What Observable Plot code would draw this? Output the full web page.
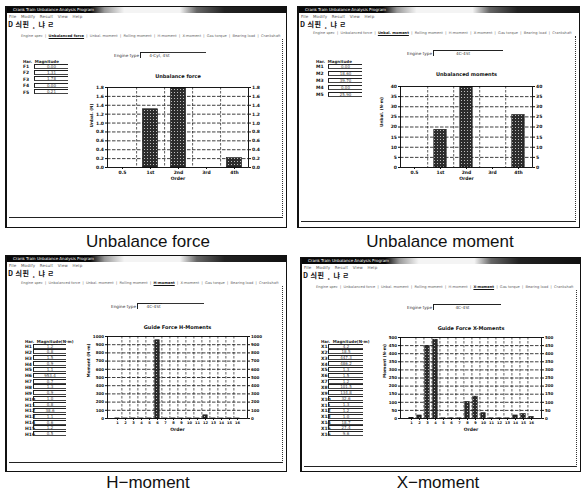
<!DOCTYPE html>
<html><head><meta charset="utf-8">
<script src="https://cdn.jsdelivr.net/npm/d3@7"></script>
<script src="https://cdn.jsdelivr.net/npm/@observablehq/plot@0.6"></script>
<style>
html,body{margin:0;padding:0;background:#fff;}
body{width:581px;height:495px;overflow:hidden;position:relative;font-family:"DejaVu Sans",sans-serif;color:#111;}
.a{position:absolute;box-sizing:border-box;white-space:nowrap;}
.frame{border:1px solid #111;border-left:2px solid #111;background:#fff;}
.tbar{height:6px;background:linear-gradient(90deg,#080808 0%,#080808 30%,#999 35%,#f4f4f4 42%,#f4f4f4 62%,#666 68%,#222 78%,#111 100%);color:#fff;font-size:4px;line-height:6px;padding-left:6px;}
.menu{font-size:4px;color:#555;letter-spacing:0.2px;}
.tool{font:bold 7px "Noto Sans CJK KR",sans-serif;color:#111;letter-spacing:0.5px;line-height:8px;}
.tab{font-size:3.6px;color:#666;line-height:5px;}
.tab b{color:#111;text-decoration:underline;}
.cap{font-family:"Liberation Sans",Arial,sans-serif;font-size:17px;color:#111;text-align:center;line-height:20px;}
.lbl{font:bold 4.5px "DejaVu Sans",sans-serif;color:#111;line-height:5px;}
.tbox{border-top:1px solid #222;border-left:1px solid #222;border-bottom:1px solid #444;height:5px;font-size:4px;line-height:4px;text-align:center;color:#444;}
.hdr{font-size:4px;color:#222;font-weight:bold;}
.small{font-size:4.2px;color:#333;}
</style></head>
<body>
<svg width="0" height="0" style="position:absolute">
  <defs>
    <pattern id="stip" width="3" height="3" patternUnits="userSpaceOnUse">
      <rect width="3" height="3" fill="#2c2c2c"/>
      <rect x="1" y="1" width="1" height="1" fill="#bdbdbd"/>
    </pattern>
  </defs>
</svg>
<script>
// ---------- data ----------
const captions = ["Unbalance force", "Unbalance moment", "H\u2212moment", "X\u2212moment"];
const chartTitles = ["Unbalance force", "Unbalanced moments", "Guide Force H-Moments", "Guide Force X-Moments"];
const yLabels = ["Unbal. (N)", "Unbal. (N\u00b7m)", "Moment (N\u00b7m)", "Moment (N\u00b7m)"];
const tabLabels = ["Engine spec", "Unbalanced force", "Unbal. moment", "Rolling moment", "H-moment", "X-moment", "Gas torque", "Bearing load", "Crankshaft"];

const forceOrders = ["0.5", "1st", "2nd", "3rd", "4th"];
const forceValues = [0, 1.31, 1.78, 0, 0.21];
const forceTicks = [0, 0.2, 0.4, 0.6, 0.8, 1.0, 1.2, 1.4, 1.6, 1.8];

const momentOrders = ["0.5", "1st", "2nd", "3rd", "4th"];
const momentValues = [0, 18.6, 39.7, 0, 25.9];
const momentTicks = [0, 5, 10, 15, 20, 25, 30, 35, 40];

const hOrders = ["1","2","3","4","5","6","7","8","9","10","11","12","13","14","15","16"];
const hValues = [1.2, 0.8, 1.5, 0.9, 1.1, 953.4, 0.7, 1.3, 0.9, 1.0, 0.8, 38.6, 1.1, 0.6, 1.2, 0.5];
const hTicks = [0, 100, 200, 300, 400, 500, 600, 700, 800, 900, 1000];

const xOrders = ["1","2","3","4","5","6","7","8","9","10","11","12","13","14","15","16"];
const xValues = [4.2, 18.5, 447.3, 486.2, 1.3, 1.5, 1.2, 101.5, 134.8, 32.6, 1.3, 1.2, 1.0, 18.7, 27.4, 9.6];
const xTicks = [0, 50, 100, 150, 200, 250, 300, 350, 400, 450, 500];

const engineType = ["4-Cyl, 4St", "4C-4St", "4C-4St", "4C-4St"];

// ---------- helpers ----------
function el(cls, x, y, w, h, text, extra) {
  const d = document.createElement("div");
  d.className = "a " + (cls || "");
  d.style.left = x + "px"; d.style.top = y + "px";
  if (w != null) d.style.width = w + "px";
  if (h != null) d.style.height = h + "px";
  if (text != null) d.innerHTML = text;
  if (extra) Object.assign(d.style, extra);
  document.body.appendChild(d);
  return d;
}

function windowChrome(p) {
  const [x, y, w, h] = p.box;
  el("frame", x, y, w, h);
  el("tbar", x + 2, y + 1, w - 3, 6, "Crank Train Unbalance Analysis Program");
  el("menu", x + 4, y + 8, 90, 5, "File&nbsp;&nbsp; Modify&nbsp;&nbsp; Result&nbsp;&nbsp; View&nbsp;&nbsp; Help");
  el("tool", x + 3, y + p.toolY, 70, 8, "D 싀핀 ¸ 냐 ㄹ");
  const tabs = el("tab", x + 16, y + p.tabY, w - 20, 5);
  tabs.innerHTML = tabLabels.map((t, i) => i === p.activeTab ? "<b>" + t + "</b>" : t).join(" &nbsp;|&nbsp; ");
  el("", x + 4, y + p.tabY + 5, w - 8, p.contentH, null, {borderRight: "1px dotted #333", borderBottom: "1.5px solid #222"});
  el("small", p.eng[0], p.eng[1], 26, 5, "Engine type");
  el("", p.eng[0] + 26, p.eng[1] - 1, p.eng[2], 6, null, {borderTop: "1px solid #222", borderLeft: "1px solid #222"});
  el("small", p.eng[0] + 28 + p.eng[2] * 0.3, p.eng[1], 40, 5, engineType[p.idx]);
  el("", p.eng[0] + 26 + p.eng[2], p.eng[1] - 1, p.eng[3], 1, null, {borderTop: "1px solid #333"});
}

function listBoxes(p, cats, vals, fmt) {
  const [lx, ly, step, bx, bw] = p.list;
  el("hdr", lx, ly - 7, 50, 5, p.idx < 2 ? "Har.&nbsp;&nbsp;Magnitude" : "Har.&nbsp;&nbsp;Magnitude(N\u00b7m)");
  cats.forEach((c, i) => {
    const yy = ly + i * step;
    el("lbl", lx, yy - 2, 10, 5, p.prefix + (i + 1));
    el("tbox", bx, yy - 2.5, bw, 5, fmt(vals[i]));
  });
}

function chart(p, cats, vals, ticks, fmt) {
  const [px1, py1, px2, py2] = p.plot;
  const mL = 30, mR = 24, mT = 20, mB = 22;
  const pw = px2 - px1;
  const bwid = pw / cats.length;
  const data = cats.map((c, i) => ({c, v: vals[i]}));
  const svg = Plot.plot({
    width: pw + mL + mR,
    height: (py2 - py1) + mT + mB,
    marginLeft: mL, marginRight: mR, marginTop: mT, marginBottom: mB,
    style: {fontSize: "5px", fontFamily: "DejaVu Sans, sans-serif", background: "transparent", color: "#111", overflow: "visible"},
    x: {domain: cats, padding: 0, label: null},
    y: {domain: [ticks[0], ticks[ticks.length - 1]], label: null},
    marks: [
      Plot.gridY(ticks.slice(1, -1), {stroke: "#000", strokeOpacity: 0.95, strokeWidth: 0.8, strokeDasharray: "3.5,1.5"}),
      Plot.gridX(cats.slice(0, -1), {dx: bwid / 2, stroke: "#000", strokeOpacity: 0.9, strokeWidth: 0.7, strokeDasharray: "2.5,1.5"}),
      Plot.barY(data, {x: "c", y: "v", fill: "url(#stip)", stroke: "#111", strokeWidth: 0.6, insetLeft: p.inset, insetRight: p.inset}),
      Plot.frame({stroke: "#000", strokeWidth: 0.9}),
      Plot.axisY(ticks, {anchor: "left", tickSize: 2, tickPadding: 1.5, tickFormat: fmt, fontWeight: "bold", fontSize: p.yFont, label: null}),
      Plot.axisY(ticks, {anchor: "right", tickSize: 2, tickPadding: 1.5, tickFormat: fmt, fontWeight: "bold", fontSize: p.yFont, label: null}),
      Plot.axisX({tickSize: 2, tickPadding: 1, fontWeight: "bold", fontSize: p.xFont, label: null}),
      Plot.text([chartTitles[p.idx]], {frameAnchor: "top", dy: p.titleDy, fontWeight: "bold", fontSize: 5}),
      Plot.text(["Order"], {frameAnchor: "bottom", dy: p.orderDy, fontWeight: "bold", fontSize: 4.5}),
      Plot.text([yLabels[p.idx]], {frameAnchor: "left", dx: p.ylabDx, rotate: -90, fontWeight: "bold", fontSize: 4.2})
    ]
  });
  svg.style.position = "absolute";
  svg.style.left = (px1 - mL) + "px";
  svg.style.top = (py1 - mT) + "px";
  document.body.appendChild(svg);
}

// ---------- layout ----------
const panels = [
  {idx: 0, box: [5, 6, 282, 222], toolY: 14, tabY: 28, contentH: 179, activeTab: 1, prefix: "F",
   eng: [114, 53, 24, 42], list: [23, 66, 6.4, 34, 34], plot: [107, 87, 248, 167], inset: 6.5,
   titleDy: -13, orderDy: 12, ylabDx: -16, cap: [148, 242], xFont: 4.5, yFont: 4.5},
  {idx: 1, box: [297, 6, 283, 222], toolY: 14, tabY: 25, contentH: 186, activeTab: 2, prefix: "M",
   eng: [407, 51, 70, 0], list: [316, 66, 7.1, 328, 34], plot: [400, 86, 532, 167], inset: 6.8,
   titleDy: -14, orderDy: 12, ylabDx: -19, cap: [440, 242], xFont: 4.5, yFont: 4.5},
  {idx: 2, box: [5, 255, 282, 217], toolY: 14, tabY: 26, contentH: 177, activeTab: 4, prefix: "H",
   eng: [111, 304, 25, 42], list: [25, 346, 5.85, 33, 33], plot: [107, 336, 247, 418], inset: 1.8,
   titleDy: -11, orderDy: 12, ylabDx: -19, cap: [148, 483], xFont: 3.6, yFont: 4},
  {idx: 3, box: [300, 257, 281, 215], toolY: 14, tabY: 28, contentH: 177, activeTab: 5, prefix: "X",
   eng: [407, 305, 68, 0], list: [321, 346, 5.85, 328, 35], plot: [400, 337, 541, 418], inset: 1.8,
   titleDy: -11, orderDy: 12, ylabDx: -16, cap: [438, 483], xFont: 3.6, yFont: 4}
];

const series = [
  [forceOrders, forceValues, forceTicks, d3.format(".1f"), d3.format(".2f")],
  [momentOrders, momentValues, momentTicks, d3.format("d"), d3.format(".2f")],
  [hOrders, hValues, hTicks, d3.format("d"), d3.format(".1f")],
  [xOrders, xValues, xTicks, d3.format("d"), d3.format(".1f")]
];

panels.forEach((p, i) => {
  const [cats, vals, ticks, tf, vf] = series[i];
  windowChrome(p);
  listBoxes(p, cats, vals, vf);
  chart(p, cats, vals, ticks, tf);
  el("cap", p.cap[0] - 100, p.cap[1] - 10, 200, 20, captions[i]);
});
</script>
</body></html>
